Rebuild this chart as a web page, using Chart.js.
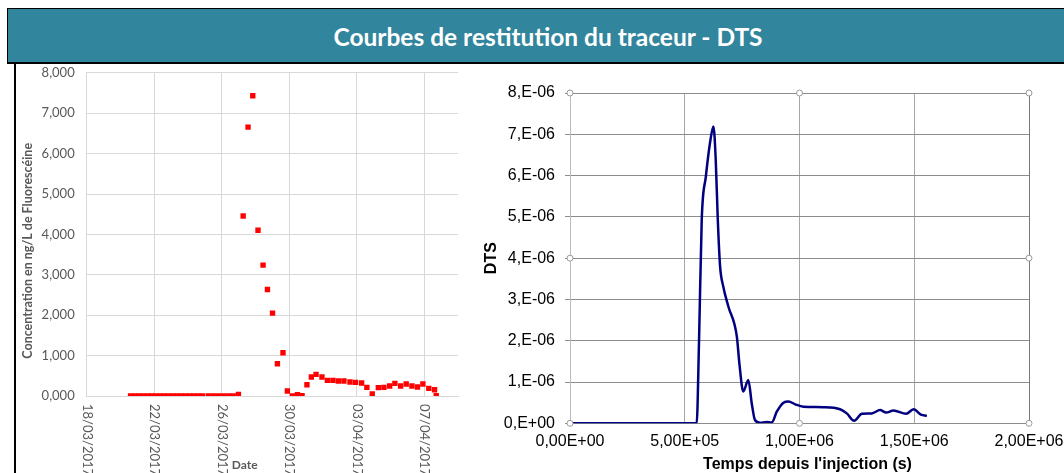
<!DOCTYPE html>
<html lang="fr">
<head>
    <meta charset="UTF-8">
    <title>Courbes de restitution du traceur - DTS</title>
    <style>
        body {
            margin: 0;
            width: 1064px;
            height: 473px;
            overflow: hidden;
            background-color: #fff;
            position: relative;
            font-family: Lato, sans-serif;
        }

        .bandeau {
            position: absolute;
            left: 7px;
            top: 8px;
            width: 1080px;
            height: 53px;
            background-color: #31859C;
            border-top: 1px solid #000;
            border-left: 1px solid #000;
            border-bottom: 2px solid #000;
            color: #fff;
            font-weight: bold;
            font-size: 24.5px;
            text-align: center;
            line-height: 56px;
        }

        .trait {
            position: absolute;
            left: 14px;
            top: 64px;
            width: 2px;
            height: 420px;
            background-color: #000;
        }

        #concChart {
            position: absolute;
            left: 16px;
            top: 53px;
        }

        #dtsChart {
            position: absolute;
            left: 462px;
            top: 64px;
        }
    </style>
    <script src="https://cdn.jsdelivr.net/npm/chart.js"></script>
</head>
<body>
    <div class="bandeau">Courbes de restitution du traceur - DTS</div>
    <div class="trait"></div>
    <canvas id="concChart" width="446" height="420"></canvas>
    <canvas id="dtsChart" width="620" height="409"></canvas>

    <script>
        // Concentration (jours depuis le 18/03/2017)
        const joursConc = [2.6, 2.85, 3.1, 3.35, 3.6, 3.85, 4.1, 4.35, 4.6, 4.85, 5.1, 5.35, 5.6, 5.85, 6.1, 6.35, 6.6, 6.85,
            7.2, 7.5, 7.81, 8.12, 8.42, 8.68, 8.99,
            9.27, 9.56, 9.84, 10.15, 10.45, 10.71, 11.01, 11.30, 11.63, 11.89,
            12.19, 12.49, 12.76, 13.05, 13.31, 13.59, 13.94, 14.26, 14.59, 14.91,
            15.24, 15.60, 15.93, 16.29, 16.60, 16.92, 17.28, 17.61, 17.95, 18.26,
            18.60, 18.93, 19.27, 19.60, 19.92, 20.27, 20.61, 20.71];
        const valeursConc = [0, 0, 0, 0, 0, 0, 0, 0, 0, 0, 0, 0, 0, 0, 0, 0, 0, 0,
            0, 0, 0, 0, 0, 0, 40,
            4456, 6656, 7432, 4103, 3238, 2637, 2051, 799, 1070, 124,
            0, 33, 8, 280, 470, 536, 470, 387, 387, 370,
            370, 346, 338, 321, 214, 49, 206, 214, 247, 313,
            247, 297, 247, 222, 297, 189, 156, 8];
        const dateDebut = [2017, 2, 18];

        // DTS
        const tempsDts = [0, 552000, 562000, 574000, 592000, 610000, 625000, 635000, 644000, 654000,
            668000, 690000, 727000, 738000, 755000, 777000, 792000, 806000, 828000, 857000,
            879000, 901000, 930000, 952000, 981000, 1017000, 1104000, 1177000, 1206000, 1238000,
            1272000, 1315000, 1351000, 1378000, 1409000, 1465000, 1497000, 1529000, 1555000];
        const valeursDts = [0, 0, 1.94e-6, 4.93e-6, 5.98e-6, 6.79e-6, 7.19e-6, 6.38e-6, 4.93e-6, 3.80e-6,
            3.31e-6, 2.83e-6, 2.10e-6, 1.45e-6, 0.77e-6, 1.05e-6, 0.48e-6, 0.08e-6, 0.015e-6, 0.03e-6,
            0.02e-6, 0.28e-6, 0.50e-6, 0.53e-6, 0.46e-6, 0.40e-6, 0.39e-6, 0.34e-6, 0.24e-6, 0.06e-6,
            0.23e-6, 0.24e-6, 0.32e-6, 0.26e-6, 0.31e-6, 0.23e-6, 0.34e-6, 0.21e-6, 0.18e-6];

        const gris = '#595959';

        function etiquetteDate(j) {
            const d = new Date(dateDebut[0], dateDebut[1], dateDebut[2] + j);
            const jj = String(d.getDate()).padStart(2, '0');
            const mm = String(d.getMonth() + 1).padStart(2, '0');
            return jj + '/' + mm + '/' + d.getFullYear();
        }

        // étiquettes tournées vers le bas + titres du graphe de gauche
        const textesConc = {
            id: 'textesConc',
            afterDraw(chart) {
                const ctx = chart.ctx;
                const xs = chart.scales.x;
                const area = chart.chartArea;
                ctx.save();
                ctx.fillStyle = gris;
                ctx.font = '13px Lato';
                ctx.textAlign = 'left';
                ctx.textBaseline = 'middle';
                xs.ticks.forEach(t => {
                    ctx.save();
                    ctx.translate(xs.getPixelForValue(t.value), area.bottom + 8);
                    ctx.rotate(Math.PI / 2);
                    ctx.fillText(etiquetteDate(t.value), 0, 0);
                    ctx.restore();
                });
                ctx.font = 'bold 12px Lato';
                ctx.textAlign = 'center';
                ctx.fillText('Date', area.left + 158, area.bottom + 69);
                ctx.translate(12, area.top + 178);
                ctx.rotate(-Math.PI / 2);
                ctx.font = 'bold 12.5px Lato';
                ctx.fillText('Concentration en ng/L de Fluorescéine', 0, 0);
                ctx.restore();
            }
        };

        new Chart(document.getElementById('concChart'), {
            type: 'scatter',
            data: {
                datasets: [{
                    data: joursConc.map((j, i) => ({ x: j, y: valeursConc[i] })),
                    backgroundColor: '#FF0000',
                    borderWidth: 0,
                    pointStyle: 'rect',
                    pointRadius: 3.8,
                    showLine: false
                }]
            },
            options: {
                responsive: false,
                animation: false,
                layout: { padding: { top: 8, right: 4, left: 0, bottom: 0 } },
                plugins: { legend: { display: false }, tooltip: { enabled: false } },
                scales: {
                    x: {
                        type: 'linear',
                        min: 0,
                        max: 22,
                        afterFit: (s) => { s.height = 77; },
                        ticks: { display: false, stepSize: 4, includeBounds: false },
                        grid: { color: '#d9d9d9', drawTicks: false },
                        border: { color: '#d9d9d9' }
                    },
                    y: {
                        min: 0,
                        max: 8000,
                        afterFit: (s) => { s.width = 70.7; },
                        ticks: {
                            stepSize: 1000,
                            padding: 12,
                            color: gris,
                            font: { family: 'Lato', size: 13 },
                            callback: (v) => (v / 1000) + ',000'
                        },
                        grid: { color: '#d9d9d9', drawTicks: false },
                        border: { color: '#d9d9d9' }
                    }
                }
            },
            plugins: [textesConc]
        });

        function etiquetteTemps(v) {
            if (v === 0) return '0,00E+00';
            const e = Math.floor(Math.log10(v));
            const m = v / Math.pow(10, e);
            return m.toFixed(2).replace('.', ',') + 'E+' + String(e).padStart(2, '0');
        }

        function etiquetteDts(v) {
            const n = Math.round(v / 1e-6);
            return n === 0 ? '0,E+00' : n + ',E-06';
        }

        const policeArial = 'Liberation Sans, Arial, sans-serif';

        // poignées rondes autour de la zone de tracé + titre de l'axe x (un peu décalé à droite)
        const habillageDts = {
            id: 'habillageDts',
            afterDraw(chart) {
                const ctx = chart.ctx;
                const a = chart.chartArea;
                const mx = (a.left + a.right) / 2;
                const my = (a.top + a.bottom) / 2;
                const pts = [[a.left, a.top], [mx, a.top], [a.right, a.top], [a.left, my], [a.right, my],
                    [a.left, a.bottom], [mx, a.bottom], [a.right, a.bottom]];
                ctx.save();
                ctx.strokeStyle = '#9a9a9a';
                ctx.fillStyle = '#fff';
                ctx.lineWidth = 1;
                pts.forEach(p => {
                    ctx.beginPath();
                    ctx.arc(p[0], p[1], 3, 0, Math.PI * 2);
                    ctx.fill();
                    ctx.stroke();
                });
                ctx.fillStyle = '#000';
                ctx.font = 'bold 16px ' + policeArial;
                ctx.textAlign = 'center';
                ctx.textBaseline = 'middle';
                ctx.fillText("Temps depuis l'injection (s)", mx + 8, a.bottom + 41);
                ctx.restore();
            }
        };

        new Chart(document.getElementById('dtsChart'), {
            type: 'line',
            data: {
                datasets: [{
                    data: tempsDts.map((t, i) => ({ x: t, y: valeursDts[i] })),
                    borderColor: '#000080',
                    borderWidth: 2.5,
                    pointRadius: 0,
                    fill: false,
                    cubicInterpolationMode: 'monotone'
                }]
            },
            options: {
                responsive: false,
                animation: false,
                layout: { padding: { top: 29, right: 53, left: 0, bottom: 0 } },
                plugins: { legend: { display: false }, tooltip: { enabled: false } },
                scales: {
                    x: {
                        type: 'linear',
                        min: 0,
                        max: 2000000,
                        afterFit: (s) => { s.height = 49.7; },
                        ticks: {
                            stepSize: 500000,
                            padding: 9,
                            color: '#000',
                            maxRotation: 0,
                            font: { family: policeArial, size: 16 },
                            callback: etiquetteTemps
                        },
                        grid: {
                            drawTicks: false,
                            color: (c) => c.tick && c.tick.value === 2000000 ? '#777' : '#a6a6a6'
                        },
                        border: { color: '#8c8c8c' }
                    },
                    y: {
                        min: 0,
                        max: 0.000008,
                        afterFit: (s) => { s.width = 108; },
                        ticks: {
                            stepSize: 0.000001,
                            padding: 10,
                            color: '#000',
                            font: { family: policeArial, size: 16 },
                            callback: etiquetteDts
                        },
                        grid: { color: '#8c8c8c', tickLength: 5 },
                        border: { color: '#bdbdbd' },
                        title: {
                            display: true,
                            text: 'DTS',
                            color: '#000',
                            font: { family: policeArial, size: 16, weight: 'bold' },
                            padding: { top: 20, bottom: 0 }
                        }
                    }
                }
            },
            plugins: [habillageDts]
        });
    </script>
</body>
</html>
